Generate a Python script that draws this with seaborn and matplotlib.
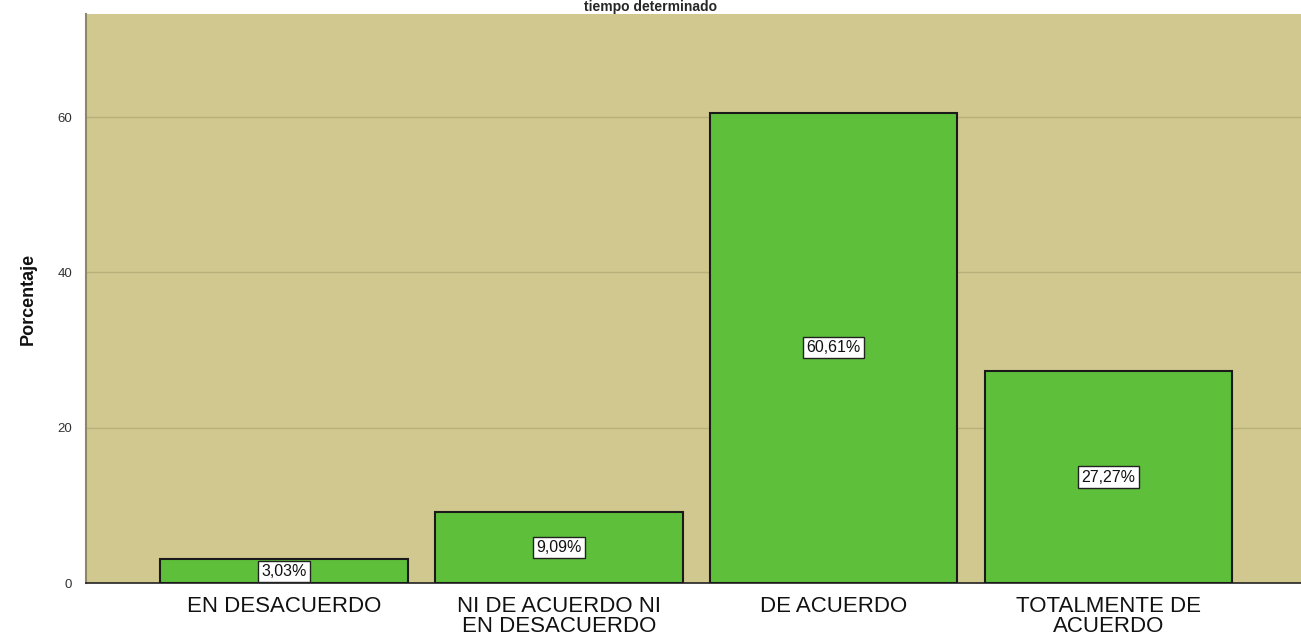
import matplotlib
matplotlib.use("Agg")
import matplotlib.pyplot as plt
import seaborn as sns
import pandas as pd

categories = ["EN DESACUERDO", "NI DE ACUERDO NI\nEN DESACUERDO", "DE ACUERDO", "TOTALMENTE DE\nACUERDO"]
values = [3.03, 9.09, 60.61, 27.27]
labels = ["3,03%", "9,09%", "60,61%", "27,27%"]
yticks = [0, 20, 40, 60]
title = "tiempo determinado"

sns.set_theme(style="white")
plt.rcParams['font.family'] = ['Liberation Sans', 'DejaVu Sans']

df = pd.DataFrame({"cat": categories, "val": values})

fig = plt.figure(figsize=(13.01, 6.42), dpi=100)
ax = fig.add_axes([86/1301, 1 - 583/642, 1 - 86/1301, (583 - 14)/642])
ax.set_facecolor("#D0C88E")

sns.barplot(data=df, x="cat", y="val", color="#5EC03A", saturation=1, width=0.9,
            edgecolor="#1a1a1a", linewidth=1.5, ax=ax, zorder=3)
for p in ax.patches:
    p.set_facecolor("#5EC03A")

ax.set_ylim(0, 73.3)
ax.set_xlim(-0.72, 3.70)
ax.set_yticks(yticks)
ax.set_yticklabels([str(t) for t in yticks], fontsize=9.5, color="#333333")
ax.yaxis.grid(True, color="#B8B07A", linewidth=1, zorder=0)
ax.set_axisbelow(True)
ax.tick_params(axis="x", labelsize=16, length=0, pad=9, labelcolor="#111111")
ax.tick_params(axis="y", length=0, pad=10)
for t in ax.get_xticklabels():
    t.set_linespacing(0.95)
ax.set_xlabel("")
ax.set_ylabel("Porcentaje", fontsize=13, fontweight="bold", labelpad=15, color="#111111")

for s in ["top", "right"]:
    ax.spines[s].set_visible(False)
ax.spines["left"].set_color("#8C8766")
ax.spines["left"].set_linewidth(1.5)
ax.spines["bottom"].set_color("#222222")
ax.spines["bottom"].set_linewidth(1.2)

for i, (v, lab) in enumerate(zip(values, labels)):
    ax.text(i, v / 2, lab, ha="center", va="center", fontsize=11.5, zorder=5, color="#111111",
            bbox=dict(boxstyle="square,pad=0.2", facecolor="white", edgecolor="#222222", linewidth=1))

fig.text(0.5, 1.0, title, ha="center", va="top", fontsize=10, fontweight="bold")

fig.savefig("out.png", dpi=100)
